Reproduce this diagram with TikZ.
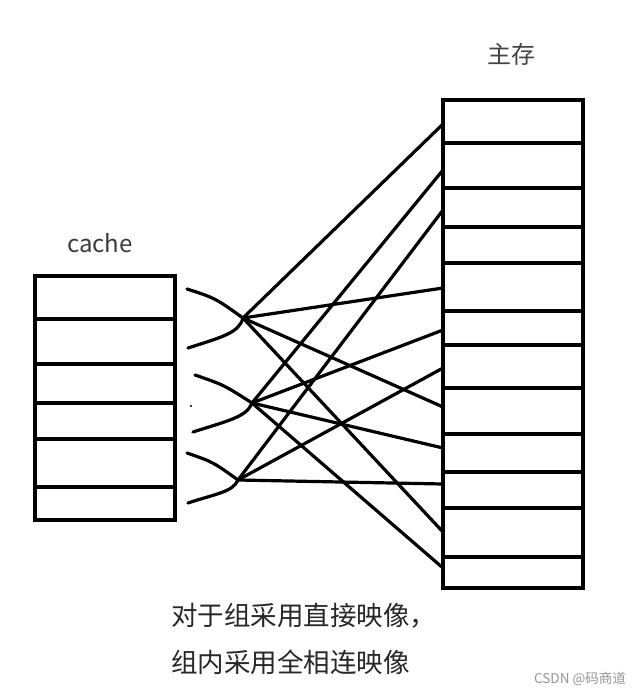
\documentclass[tikz,border=0pt]{standalone}
\usepackage{fontspec}
\setmainfont{Noto Sans CJK SC}
\definecolor{txtgray}{RGB}{40,40,40}
\definecolor{wmgray}{RGB}{150,150,150}
\begin{document}
\begin{tikzpicture}[x=1pt,y=-1pt,
  membox/.style={draw=black, line width=3.4pt, inner sep=0pt, outer sep=0pt, minimum width=140pt, anchor=north west},
  rowline/.style={draw=black, line width=3.4pt},
  wire/.style={draw=black, line width=3.2pt, line cap=round, line join=round},
  lbl/.style={inner sep=0pt, text=txtgray}]
\useasboundingbox (0,0) rectangle (641,695);
\fill[white] (0,0) rectangle (641,695);

% boxes
\node[membox, minimum height=244pt] (cache) at (35,276) {};
\node[membox, minimum height=488pt] (mem) at (443,100) {};
\foreach \y in {319,364,403,439,487}
  \draw[rowline] (cache.west |- {(0,\y)}) -- (cache.east |- {(0,\y)});
\foreach \y in {143,188,227,263,311,345,388,434,472,508,557}
  \draw[rowline] (mem.west |- {(0,\y)}) -- (mem.east |- {(0,\y)});

% labels
\node[lbl, font=\fontsize{24}{26}\selectfont, text={rgb,255:red,60;green,60;blue,60}] (cachelbl) at (100,243) {cache};
\node[lbl, font=\fontsize{24}{26}\selectfont, text={rgb,255:red,68;green,68;blue,68}] (memlbl) at (511,54) {主存};
\node[lbl, anchor=west, font=\fontsize{26.5}{28}\selectfont] (cap1) at (171,616) {对于组采用直接映像，};
\node[lbl, anchor=west, font=\fontsize{26.5}{28}\selectfont] (cap2) at (171,662) {组内采用全相连映像};
\node[lbl, anchor=east, text=wmgray, font=\fontsize{13.5}{15}\selectfont] (wm) at (626,679) {CSDN @码商道};

% junctions
\coordinate (j1) at (243,318);
\coordinate (j2) at (252,403);
\coordinate (j3) at (238,480);
% curve starts
\coordinate (a1) at (187,289);
\coordinate (b1) at (188,348);
\coordinate (a2) at (195,375);
\coordinate (b2) at (193,432);
\coordinate (a3) at (187,453);
\coordinate (b3) at (188,503);
% endpoints on main memory
\foreach \n/\y in {m1/124,m2/170,m3/210,m4/288,m5/330,m6/368,m7/407,m8/448,m9/484,m10/532,m11/568}
  \coordinate (\n) at (mem.west |- {(0,\y)});

% crossing curves
\draw[wire] (a1) .. controls (215,298) .. (j1);
\draw[wire] (b1) .. controls (222,337) and (239,333) .. (j1);
\draw[wire] (a2) .. controls (224,385) .. (j2);
\draw[wire] (b2) .. controls (227,421) and (247,417) .. (j2);
\draw[wire] (a3) .. controls (213,462) .. (j3);
\draw[wire] (b3) .. controls (215,494) and (233,492) .. (j3);

% connectors
\draw[wire] (j1) -- (m1);
\draw[wire] (j1) -- (m4);
\draw[wire] (j1) -- (m7);
\draw[wire] (j1) -- (m10);
\draw[wire] (j2) -- (m2);
\draw[wire] (j2) -- (m5);
\draw[wire] (j2) -- (m8);
\draw[wire] (j2) -- (m11);
\draw[wire] (j3) -- (m3);
\draw[wire] (j3) -- (m6);
\draw[wire] (j3) -- (m9);

% small stray dot
\fill (191,406) circle (1.2pt);
\end{tikzpicture}
\end{document}
